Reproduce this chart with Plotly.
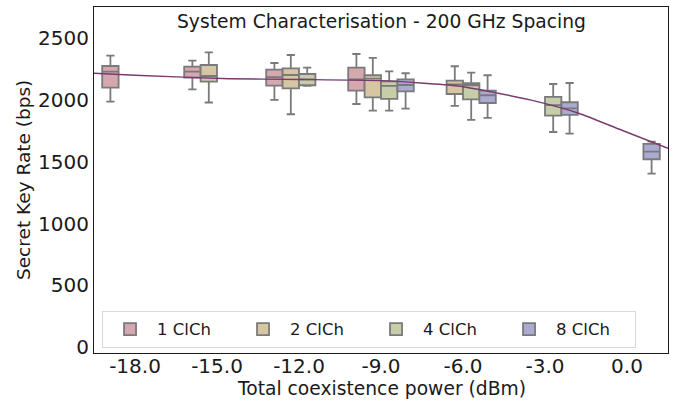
import plotly.graph_objects as go

# ---- data ----
tick_labels = ["-18.0", "-15.0", "-12.0", "-9.0", "-6.0", "-3.0", "0.0"]
tick_pos = [0, 1, 2, 3, 4, 5, 6]

series_names = ["1 ClCh", "2 ClCh", "4 ClCh", "8 ClCh"]

# positions (index on the category axis) where each series has a box
pos_1 = [0, 1, 2, 3]
pos_2 = [1, 2, 3, 4]
pos_4 = [2, 3, 4, 5]
pos_8 = [3, 4, 5, 6]

# box statistics: lower whisker, q1, median, q3, upper whisker
low_1 = [1988, 2088, 2002, 1969]
q1_1 = [2101, 2183, 2118, 2077]
med_1 = [2231, 2231, 2186, 2169]
q3_1 = [2277, 2271, 2247, 2264]
up_1 = [2361, 2320, 2301, 2374]

low_2 = [1981, 1886, 1915, 1953]
q1_2 = [2150, 2096, 2023, 2050]
med_2 = [2196, 2204, 2174, 2128]
q3_2 = [2285, 2258, 2202, 2158]
up_2 = [2388, 2366, 2342, 2275]

low_4 = [2115, 1915, 1840, 1742]
q1_4 = [2121, 2010, 2007, 1875]
med_4 = [2169, 2115, 2121, 1960]
q3_4 = [2212, 2153, 2137, 2026]
up_4 = [2264, 2234, 2223, 2131]

low_8 = [1931, 1856, 1729, 1404]
q1_8 = [2072, 1977, 1880, 1521]
med_8 = [2123, 2040, 1934, 1583]
q3_8 = [2169, 2077, 1983, 1645]
up_8 = [2218, 2202, 2139, 1664]

# trend curve (position on category axis, value)
fit_pos = [-0.5, 0, 1.15, 2, 3, 3.94, 4.43, 4.82, 5.41, 5.93, 6.5]
fit_val = [2218, 2202, 2174, 2168, 2158, 2115, 2056, 2002, 1894, 1758, 1610]

y_ticks = [0, 500, 1000, 1500, 2000, 2500]

title_text = "System Characterisation - 200 GHz Spacing"
x_title = "Total coexistence power (dBm)"
y_title = "Secret Key Rate (bps)"

# ---- styling ----
fills = ["#d5a7ae", "#d6c6a4", "#c6cda9", "#abaad0"]
edge = "#7a7a7a"
font_family = "DejaVu Sans"
dark = "#1a1a1a"

fig = go.Figure()

all_series = [
    (pos_1, low_1, q1_1, med_1, q3_1, up_1),
    (pos_2, low_2, q1_2, med_2, q3_2, up_2),
    (pos_4, low_4, q1_4, med_4, q3_4, up_4),
    (pos_8, low_8, q1_8, med_8, q3_8, up_8),
]

for name, fill, (p, lo, a, m, b, hi) in zip(series_names, fills, all_series):
    fig.add_trace(go.Box(
        name=name,
        x=p,
        lowerfence=lo,
        q1=a,
        median=m,
        q3=b,
        upperfence=hi,
        fillcolor=fill,
        line=dict(color=edge, width=1.8),
        whiskerwidth=0.5,
        boxpoints=False,
        hoverinfo="skip",
    ))

fig.add_trace(go.Scatter(
    x=fit_pos, y=fit_val, mode="lines",
    line=dict(color="#7a3a70", width=1.4, shape="spline", smoothing=0.6),
    showlegend=False, hoverinfo="skip",
))

fig.update_layout(
    width=678, height=405,
    margin=dict(l=94, r=10, t=7, b=52, autoexpand=False),
    paper_bgcolor="white", plot_bgcolor="white",
    boxmode="group", boxgap=0.2, boxgroupgap=0,
    font=dict(family=font_family, color=dark),
    showlegend=True,
    legend=dict(
        orientation="h", x=0.014, y=0.015, xanchor="left", yanchor="bottom",
        bgcolor="rgba(255,255,255,0.85)", bordercolor="#d9d9d9", borderwidth=1,
        font=dict(size=16.5, family=font_family, color=dark),
        itemwidth=44,
        entrywidth=74, entrywidthmode="pixels",
    ),
    annotations=[
        dict(text=title_text, xref="paper", yref="paper", x=0.5, y=1, yshift=-2,
             xanchor="center", yanchor="top", showarrow=False,
             font=dict(size=18.7, family=font_family, color=dark)),
        dict(text=x_title, xref="paper", yref="paper", x=0.5, y=0, yshift=-35,
             xanchor="center", yanchor="middle", showarrow=False,
             font=dict(size=18.7, family=font_family, color=dark)),
        dict(text=y_title, xref="paper", yref="paper", x=0, xshift=-71, y=0.5,
             xanchor="center", yanchor="middle", textangle=-90, showarrow=False,
             font=dict(size=18.5, family=font_family, color=dark)),
    ],
)

fig.update_xaxes(
    range=[-0.5, 6.5], tickmode="array", tickvals=tick_pos, ticktext=tick_labels,
    showgrid=False, zeroline=False, showline=True, mirror=True, automargin=False,
    linecolor=dark, linewidth=1.25, ticks="", ticklabelstandoff=-5,
    tickfont=dict(size=20, family=font_family, color=dark),
)
fig.update_yaxes(
    range=[-49, 2755], tickmode="array", tickvals=y_ticks,
    showgrid=False, zeroline=False, showline=True, mirror=True, automargin=False,
    linecolor=dark, linewidth=1.25, ticks="",
    tickfont=dict(size=20, family=font_family, color=dark),
)

fig.write_html("out.html", config={"displayModeBar": False},
               post_script="document.body.style.margin='0';")
